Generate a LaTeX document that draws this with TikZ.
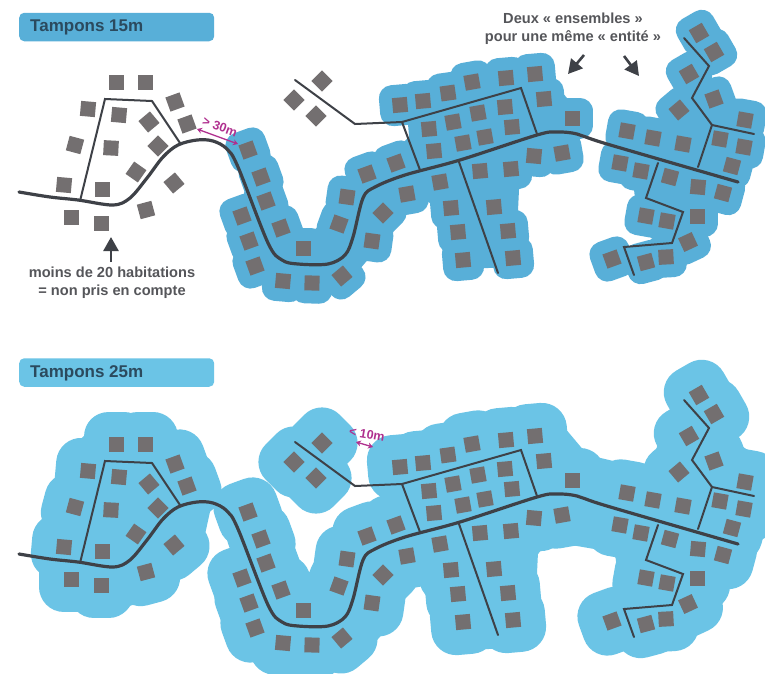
\documentclass[tikz,border=0pt]{standalone}
\usepackage{fontspec}
\setmainfont{Liberation Sans}
\usetikzlibrary{arrows.meta}
\definecolor{bufA}{HTML}{58AFD8}
\definecolor{bufB}{HTML}{6BC4E6}
\definecolor{hse}{HTML}{736F70}
\definecolor{rd}{HTML}{3E4147}
\definecolor{txt}{HTML}{55565A}
\definecolor{ttl}{HTML}{2B4A5E}
\definecolor{mag}{HTML}{B0308F}
\tikzset{
  road/.style={draw=rd,line width=3.2pt,line cap=round,line join=round},
  lane/.style={draw=rd,line width=2pt,line cap=round,line join=miter},
  bufferA/.style={draw=bufA,fill=bufA,line width=26pt,line join=round},
  bufferB/.style={draw=bufB,fill=bufB,line width=50pt,line join=round},
  hullA/.style={draw=bufA,fill=bufA,line width=18pt,line join=round},
  hullB/.style={draw=bufB,fill=bufB,line width=56pt,line join=round},
  house/.style={fill=hse},
  titlebox/.style={rounded corners=5pt,minimum width=195pt,minimum height=28.5pt,anchor=west,text=ttl},
  titletext/.style={anchor=west,text=ttl,font=\bfseries\fontsize{17}{20}\selectfont,inner sep=0pt},
  note/.style={text=txt,align=center,font=\bfseries\fontsize{14.6}{18}\selectfont},
  blackarrow/.style={draw=rd,line width=2.6pt,-{Triangle[length=14pt,width=15pt]}},
  gap/.style={draw=mag,line width=1.3pt,{Stealth[length=5pt,width=6pt]}-{Stealth[length=5pt,width=6pt]}},
  gaplabel/.style={text=mag,font=\bfseries\fontsize{12.5}{14}\selectfont,inner sep=0pt}
}
\def\hamletA{116/82/0,145/82/0,88/109/-5,119/115/-5,175/102/20,187/124/20,149/122/40,158/146/45,75/145/-15,111/148/-3,136/172/-35,174/183/40,64/185/-5,102/189/0,146/210/15,71/217/0,101/223/0,322/81/45,294/100/45,316/116/45}
\def\hamletB{248/150/20,261/177/20,266/201/20,242/216/20,281/228/20,249/241/20,303/248/0,255/266/20,283/281/-5,312/283/-2,342/276/40,347/197/-8,339/224/-20,372/241/-8,367/174/20,383/213/45,396/163/20,407/194/10,400/105/5,423/101/5,448/93/8,472/82/10,506/78/5,535/74/5,544/99/5,572/118/0,429/129/5,453/122/10,478/113/10,505/107/5,512/127/5,485/137/10,463/143/10,434/151/5,440/182/10,480/171/5,511/169/5,534/156/-5,562/153/10,451/208/5,494/207/5,458/232/5,508/231/5,463/260/5,513/258/5,699/33/30,714/52/30,689/74/30,714/99/20,679/110/40,745/120/-10,627/131/-10,653/138/-10,683/144/-10,720/139/-10,744/147/-10,732/166/-15,620/163/-10,641/171/-10,670/177/-15,698/187/-5,723/193/-15,697/216/0,646/216/-10,667/221/-10,688/242/25,612/259/20,646/262/15,666/257/3}
\newcommand{\squares}[2]{\foreach \hx/\hy/\hr in #2 {\path[#1,shift={(\hx,\hy)},rotate=\hr] (-7.5,-7.5) rectangle (7.5,7.5);}}
\newcommand{\hullmiddle}[1]{\path[#1] (248,150) -- (261,177) -- (281,228) -- (303,248) -- (339,224) -- (347,197) -- (367,174) -- (396,163) -- (429,129) -- (400,105) -- (535,74) -- (572,118) -- (562,153) -- (511,169) -- (508,231) -- (513,258) -- (463,260) -- (440,182) -- (407,194) -- (383,213) -- (372,241) -- (342,276) -- (312,283) -- (283,281) -- (255,266) -- (242,216) -- (266,201) -- cycle;}
\newcommand{\hullright}[1]{\path[#1] (714,99) -- (745,120) -- (744,147) -- (732,166) -- (723,193) -- (697,216) -- (688,242) -- (666,257) -- (667,221) -- (646,216) -- (641,171) -- (620,163) -- (627,131) -- (683,144) -- (679,110) -- cycle;
  \path[#1] (689,74) -- (714,99) -- (679,110) -- cycle;}
\newcommand{\roadnet}{%
  \path[road] plot[smooth,tension=0.55] coordinates {(19,192) (50,197) (78,200) (113,205) (130,198) (147,178) (163,157) (178,145) (197,140) (213,141) (227,149) (238,167) (268,243) (282,260) (298,264) (328,264) (345,255) (353,237) (363,198) (375,187) (405,175) (460,160) (537,135) (557,132) (577,134) (607,144) (738,182)};
  \path[lane] (80,201) -- (105,99) -- (152,101) -- (180,143);
  \path[lane] (295,80) -- (355,124) -- (402,122) -- (420,170);
  \path[lane] (402,122) -- (521,88) -- (537,134);
  \path[lane] (459,162) -- (498,273);
  \path[lane] (658,163) -- (646,198) -- (683,212) -- (672,243) -- (624,247) -- (634,275);
  \path[lane] (698,167) -- (712,125) -- (754,134);
  \path[lane] (712,125) -- (692,98) -- (709,66) -- (684,38);
}
\begin{document}
\begin{tikzpicture}[x=1pt,y=-1pt]
\useasboundingbox (0,0) rectangle (765,673);
\fill[white] (0,0) rectangle (765,673);
% top panel
\node[titlebox,fill=bufA] (titleA) at (19,27) {};
\node[titletext] (titleAtext) at (30,27.5) {Tampons 15m};
\hullmiddle{hullA}
\hullright{hullA}
\squares{bufferA}{\hamletB}
\squares{house}{\hamletA}
\squares{house}{\hamletB}
\roadnet
\node[note] (noteA) at (112,283) {moins de 20 habitations\\= non pris en compte};
\coordinate (arrA0) at (111,262);
\coordinate (arrA1) at (111,237);
\draw[blackarrow] (arrA0) -- (arrA1);
\node[note] (noteB) at (573,29) {Deux « ensembles »\\pour une même « entité »};
\coordinate (arrB0) at (584,55);
\coordinate (arrB1) at (568,74);
\draw[blackarrow] (arrB0) -- (arrB1);
\coordinate (arrC0) at (624,56);
\coordinate (arrC1) at (639,76);
\draw[blackarrow] (arrC0) -- (arrC1);
\coordinate (gapA0) at (197,129);
\coordinate (gapA1) at (238,144);
\draw[gap] (gapA0) -- (gapA1);
\node[gaplabel,rotate=-20] (gapAtext) at (220,127) {> 30m};
% bottom panel
\node[titlebox,fill=bufB] (titleB) at (19,372.5) {};
\node[titletext] (titleBtext) at (30,373) {Tampons 25m};
\begin{scope}[shift={(0,362)}]
\path[hullB] (116,82) -- (145,82) -- (175,102) -- (187,124) -- (174,183) -- (146,210) -- (101,223) -- (71,217) -- (64,185) -- (75,145) -- (88,109) -- cycle;
\path[hullB] (322,81) -- (294,100) -- (316,116) -- cycle;
\hullmiddle{hullB}
\hullright{hullB}
\path[hullB] (572,118) -- (627,131) -- (620,163) -- (562,153) -- cycle;
\squares{bufferB}{\hamletA}
\squares{bufferB}{\hamletB}
\squares{house}{\hamletA}
\squares{house}{\hamletB}
\roadnet
\end{scope}
\coordinate (gapB0) at (356,442);
\coordinate (gapB1) at (373,447);
\draw[gap] (gapB0) -- (gapB1);
\node[gaplabel,rotate=-10] (gapBtext) at (367,434) {< 10m};
\end{tikzpicture}
\end{document}
